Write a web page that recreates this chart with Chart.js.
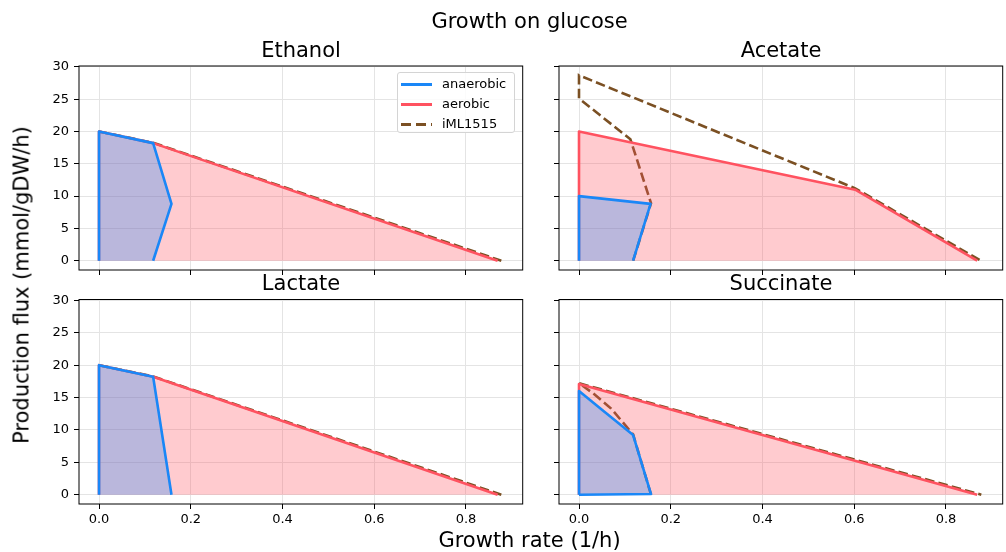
<!DOCTYPE html>
<html>
<head>
<meta charset="utf-8">
<script src="https://cdn.jsdelivr.net/npm/chart.js@4"></script>
<style>
  body { margin: 0; background: #fff; font-family: 'DejaVu Sans', sans-serif; }
  #page { position: relative; width: 1006px; height: 552px; overflow: hidden; }
  canvas { position: absolute; left: 0; top: 0; }
  .txt { position: absolute; white-space: nowrap; line-height: 1; color: #000; transform: translateX(-50%); }
  #legend { position: absolute; left: 397px; top: 72px; width: 116px; height: 59px; border: 1px solid #d4d4d4; border-radius: 3px; background: rgba(255,255,255,0.85); }
  .row { position: absolute; left: 0; height: 20px; width: 116px; }
  .sample { position: absolute; left: 3px; width: 31px; height: 3px; top: 9px; }
  .lab { position: absolute; left: 44px; top: 3px; font-size: 13px; line-height: 1; }
</style>
</head>
<body>
<div id="page">
  <canvas id="c0" width="1006" height="552"></canvas>
  <canvas id="c1" width="1006" height="552"></canvas>
  <canvas id="c2" width="1006" height="552"></canvas>
  <canvas id="c3" width="1006" height="552"></canvas>

  <div class="txt" style="left:529.5px; top:11px; font-size:21px;">Growth on glucose</div>
  <div class="txt" id="t0" style="left:301px; top:40px; font-size:21px;"></div>
  <div class="txt" id="t1" style="left:781px; top:40px; font-size:21px;"></div>
  <div class="txt" id="t2" style="left:301px; top:273px; font-size:21px;"></div>
  <div class="txt" id="t3" style="left:781px; top:273px; font-size:21px;"></div>
  <div class="txt" style="left:529.5px; top:530px; font-size:21px;">Growth rate (1/h)</div>
  <div class="txt" style="left:22px; top:285px; font-size:21px; transform: translate(-50%,-50%) rotate(-90deg);">Production flux (mmol/gDW/h)</div>

  <div id="legend">
    <div class="row" style="top:1px;"><div class="sample" style="background:rgb(26,135,247);"></div><div class="lab">anaerobic</div></div>
    <div class="row" style="top:21px;"><div class="sample" style="background:rgb(255,82,96);"></div><div class="lab">aerobic</div></div>
    <div class="row" style="top:41px;"><div class="sample" style="background:repeating-linear-gradient(to right, #7b5023 0 10px, transparent 10px 15px);"></div><div class="lab">iML1515</div></div>
  </div>
</div>
<script>
// tick labels
const xTicks = [0, 0.2, 0.4, 0.6, 0.8];
const yTicks = [0, 5, 10, 15, 20, 25, 30];
const panelNames = ['Ethanol', 'Acetate', 'Lactate', 'Succinate'];
const seriesNames = ['anaerobic', 'aerobic', 'iML1515'];

// [growth rate, production flux] outlines
const ethanolAnaerobic = [[0, 0], [0, 20], [0.118, 18.2], [0.158, 8.8], [0.118, 0]];
const ethanolAerobic = [[0, 0], [0, 20], [0.118, 18.2], [0.869, 0]];
const ethanolIML = [[0, 20], [0.118, 18.25], [0.877, 0]];

const acetateAnaerobic = [[0, 0], [0, 10], [0.156, 8.8], [0.118, 0]];
const acetateAerobic = [[0, 0], [0, 20], [0.602, 11.0], [0.868, 0]];
const acetateIML = [[0.118, 0], [0.157, 8.9], [0.112, 18.8], [0, 25.1], [0, 28.7], [0.602, 11.2], [0.876, 0]];

const lactateAnaerobic = [[0, 0], [0, 20], [0.118, 18.2], [0.158, 0]];
const lactateAerobic = [[0, 0], [0, 20], [0.118, 18.2], [0.869, 0]];
const lactateIML = [[0, 20], [0.118, 18.25], [0.877, 0]];

const succinateAnaerobic = [[0, 0], [0, 16], [0.05, 13.1], [0.118, 9.2], [0.157, 0.1], [0, 0]];
const succinateAerobic = [[0, 0], [0, 17.1], [0.868, 0]];
const succinateIML = [[0.157, 0], [0.118, 9.3], [0.07, 13.3], [0.03, 15.7], [0, 17.2], [0.877, 0]];

const panels = [
  { data: [ethanolAnaerobic, ethanolAerobic, ethanolIML], area: { l: 79, t: 66, r: 522.7, b: 270 }, xLab: false, yLab: true },
  { data: [acetateAnaerobic, acetateAerobic, acetateIML], area: { l: 559, t: 66, r: 1002.7, b: 270 }, xLab: false, yLab: false },
  { data: [lactateAnaerobic, lactateAerobic, lactateIML], area: { l: 79, t: 299.5, r: 522.7, b: 504 }, xLab: true, yLab: true },
  { data: [succinateAnaerobic, succinateAerobic, succinateIML], area: { l: 559, t: 299.5, r: 1002.7, b: 504 }, xLab: true, yLab: false }
];

const BLUE = 'rgb(26,135,247)', RED = 'rgb(255,82,96)', BROWN = '#7b5023';
const YW = 40, XH = 30;

const frame = {
  id: 'frame',
  afterDraw(c) {
    const { ctx, chartArea: a } = c;
    ctx.save();
    ctx.strokeStyle = '#000';
    ctx.lineWidth = 1;
    ctx.strokeRect(a.left, a.top, a.right - a.left, a.bottom - a.top);
    ctx.restore();
  }
};

const pts = arr => arr.map(p => ({ x: p[0], y: p[1] }));

panels.forEach((p, i) => {
  document.getElementById('t' + i).textContent = panelNames[i];
  const a = p.area;
  new Chart(document.getElementById('c' + i), {
    type: 'scatter',
    data: {
      datasets: [
        { label: seriesNames[0], data: pts(p.data[0]), showLine: true, borderColor: BLUE, borderWidth: 2.6, backgroundColor: 'rgba(26,135,247,0.3)', fill: 'shape', pointRadius: 0, borderJoinStyle: 'round' },
        { label: seriesNames[1], data: pts(p.data[1]), showLine: true, borderColor: RED, borderWidth: 2.6, backgroundColor: 'rgba(255,82,96,0.3)', fill: 'shape', pointRadius: 0, borderJoinStyle: 'round' },
        { label: seriesNames[2], data: pts(p.data[2]), showLine: true, borderColor: BROWN, borderWidth: 2.6, borderDash: [9.6, 4.2], fill: false, pointRadius: 0 }
      ]
    },
    options: {
      responsive: false, animation: false, events: [],
      layout: { padding: { left: a.l - YW, top: a.t, right: 1006 - a.r, bottom: 552 - a.b - XH } },
      plugins: { legend: { display: false }, tooltip: { enabled: false } },
      scales: {
        x: {
          type: 'linear', min: -0.0436, max: 0.9236,
          afterBuildTicks: s => { s.ticks = xTicks.map(v => ({ value: v })); },
          afterFit: s => { s.height = XH; },
          border: { display: false },
          grid: { color: '#e4e4e4', lineWidth: 1, tickColor: '#000', tickLength: 5 },
          ticks: { color: '#000', padding: 3, font: { family: 'DejaVu Sans', size: 13 }, maxRotation: 0, callback: v => p.xLab ? v.toFixed(1) : '' }
        },
        y: {
          type: 'linear', min: -1.435, max: 30.135,
          afterBuildTicks: s => { s.ticks = yTicks.map(v => ({ value: v })); },
          afterFit: s => { s.width = YW; },
          border: { display: false },
          grid: { color: '#e4e4e4', lineWidth: 1, tickColor: '#000', tickLength: 5 },
          ticks: { color: '#000', padding: 5, font: { family: 'DejaVu Sans', size: 13 }, callback: v => p.yLab ? String(v) : '' }
        }
      }
    },
    plugins: [frame]
  });
});
</script>
</body>
</html>
